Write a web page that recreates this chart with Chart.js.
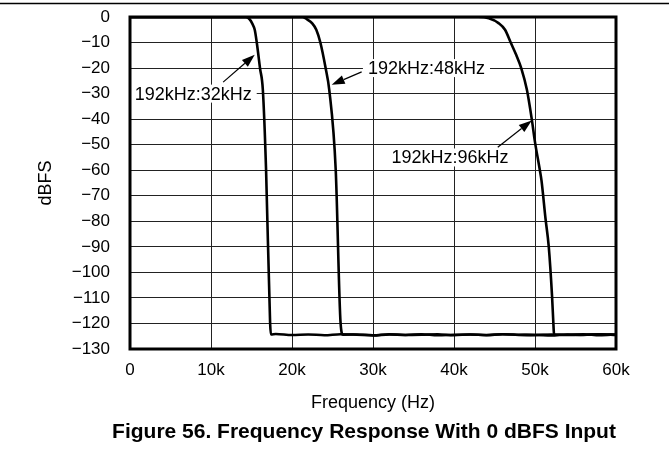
<!DOCTYPE html>
<html><head><meta charset="utf-8">
<script src="https://cdn.jsdelivr.net/npm/chart.js@4/dist/chart.umd.min.js"></script>
<style>html,body{margin:0;padding:0;background:#fff;}</style>
</head><body>
<canvas id="c" width="669" height="451"></canvas>
<script>
// ---- data ----
const xTicks = [0, 10000, 20000, 30000, 40000, 50000, 60000];
const xTickLabels = ['0', '10k', '20k', '30k', '40k', '50k', '60k'];
const yTicks = [0, -10, -20, -30, -40, -50, -60, -70, -80, -90, -100, -110, -120, -130];
const yTickLabels = ['0', '\u221210', '\u221220', '\u221230', '\u221240', '\u221250', '\u221260', '\u221270', '\u221280', '\u221290', '\u2212100', '\u2212110', '\u2212120', '\u2212130'];

const floorHz = [18000, 20000, 22000, 24000, 26000, 28000, 30000, 32000, 34000, 36000, 38000, 40000, 42000, 44000, 46000, 48000, 50000, 52000, 54000, 56000, 58000, 60000];

const hz32 = [0, 14300, 14800, 15100, 15400, 15650, 16050, 16400, 16800, 17300, 17400];
const db32 = [0, 0, -1, -2.6, -5, -10, -20, -28.5, -60, -120, -124.3];
const floor32 = [-124.1, -124.5, -124.3, -124.6, -124.2, -124.4, -124.7, -124.3, -124.5, -124.2, -124.6, -124.4, -124.3, -124.6, -124.2, -124.5, -124.4, -124.7, -124.3, -124.5, -124.2, -124.4];

const hz48 = [0, 21300, 21900, 22500, 23000, 23500, 24150, 24600, 25400, 26000, 26300];
const db48 = [0, 0, -1, -2.5, -5, -10, -20, -28.5, -60, -120, -124.4];
const floor48 = [null, null, null, null, null, -124.3, -124.6, -124.2, -124.5, -124.4, -124.2, -124.6, -124.3, -124.5, -124.2, -124.4, -124.6, -124.3, -124.5, -124.4, -124.2, -124.5];

const hz96 = [0, 43000, 44300, 45500, 46300, 47000, 47700, 48300, 49000, 49600, 50000, 50600, 50800, 51300, 51700, 52100, 52300, 52350];
const db96 = [0, 0, -0.5, -2.4, -5, -10, -15, -20, -28.5, -40, -49, -60, -64, -79, -90, -109, -122, -124.4];
const floor96 = [null, null, null, null, null, null, null, null, null, null, null, null, null, null, null, null, null, null, -124.4, -124.2, -124.6, -124.3];

const labels = ['192kHz:32kHz', '192kHz:48kHz', '192kHz:96kHz'];
const labelAt = [[7800, -30], [36600, -20], [39500, -55]];
const arrowFrom = [[11500, -25.5], [28600, -21.5], [45400, -51]];
const arrowTo = [[15400, -14.8], [24900, -26.5], [49600, -40.5]];

const figureTitle = 'Figure 56. Frequency Response With 0 dBFS Input';

// ---- build points ----
function pts(hz, db, floor) {
  const out = hz.map((h, i) => ({x: h, y: db[i]}));
  const last = hz[hz.length - 1];
  floorHz.forEach((h, i) => { if (floor[i] !== null && h > last) out.push({x: h, y: floor[i]}); });
  return out;
}

const FONT = "'Liberation Sans', Arial, sans-serif";

const decor = {
  id: 'decor',
  afterDatasetsDraw(chart) {
    const {ctx, chartArea: a, scales: {x, y}} = chart;
    ctx.save();
    // annotation labels
    ctx.font = '18px ' + FONT;
    ctx.textAlign = 'center';
    ctx.textBaseline = 'middle';
    labels.forEach((t, i) => {
      const px = x.getPixelForValue(labelAt[i][0]);
      const py = y.getPixelForValue(labelAt[i][1]);
      const w = ctx.measureText(t).width;
      ctx.fillStyle = '#fff';
      ctx.fillRect(px - w / 2 - 5, py - 9, w + 10, 18);
      ctx.fillStyle = '#000';
      ctx.fillText(t, px, py + 1);
      // arrow
      const x0 = x.getPixelForValue(arrowFrom[i][0]), y0 = y.getPixelForValue(arrowFrom[i][1]);
      const x1 = x.getPixelForValue(arrowTo[i][0]), y1 = y.getPixelForValue(arrowTo[i][1]);
      const ang = Math.atan2(y1 - y0, x1 - x0);
      const L = 13, W = 4.5;
      ctx.strokeStyle = '#000';
      ctx.lineWidth = 1.2;
      ctx.beginPath();
      ctx.moveTo(x0, y0);
      ctx.lineTo(x1 - L * Math.cos(ang), y1 - L * Math.sin(ang));
      ctx.stroke();
      ctx.beginPath();
      ctx.moveTo(x1, y1);
      ctx.lineTo(x1 - L * Math.cos(ang) - W * Math.sin(ang), y1 - L * Math.sin(ang) + W * Math.cos(ang));
      ctx.lineTo(x1 - L * Math.cos(ang) + W * Math.sin(ang), y1 - L * Math.sin(ang) - W * Math.cos(ang));
      ctx.closePath();
      ctx.fill();
    });
    // frame
    ctx.strokeStyle = '#000';
    ctx.lineWidth = 3;
    ctx.strokeRect(a.left, a.top, a.right - a.left, a.bottom - a.top);
    // header rule
    ctx.lineWidth = 1.5;
    ctx.beginPath();
    ctx.moveTo(0, 3.5);
    ctx.lineTo(chart.width, 3.5);
    ctx.stroke();
    // figure caption
    ctx.fillStyle = '#000';
    ctx.font = 'bold 21px ' + FONT;
    ctx.textAlign = 'center';
    ctx.textBaseline = 'middle';
    ctx.fillText(figureTitle, 364, 432);
    ctx.restore();
  }
};

const lineStyle = {
  borderColor: '#000',
  borderWidth: 2.6,
  pointRadius: 0,
  fill: false,
  cubicInterpolationMode: 'monotone',
  spanGaps: true
};

new Chart(document.getElementById('c'), {
  type: 'line',
  data: {
    datasets: [
      Object.assign({label: labels[0], data: pts(hz32, db32, floor32)}, lineStyle),
      Object.assign({label: labels[1], data: pts(hz48, db48, floor48)}, lineStyle),
      Object.assign({label: labels[2], data: pts(hz96, db96, floor96)}, lineStyle)
    ]
  },
  options: {
    responsive: false,
    animation: false,
    devicePixelRatio: 1,
    layout: {padding: {left: 0, right: 53, top: 17, bottom: 0}},
    plugins: {
      legend: {display: false},
      tooltip: {enabled: false},
      title: {display: false}
    },
    scales: {
      x: {
        type: 'linear',
        min: 0, max: 60000,
        afterBuildTicks(s) { s.ticks = xTicks.map(v => ({value: v})); },
        afterFit(s) { s.height = 102; },
        ticks: {
          callback: (v) => xTickLabels[xTicks.indexOf(v)],
          color: '#000',
          font: {family: FONT, size: 17},
          padding: 11,
          maxRotation: 0
        },
        grid: {color: '#222', lineWidth: 1, drawTicks: false},
        border: {display: false},
        title: {
          display: true,
          text: 'Frequency (Hz)',
          color: '#000',
          font: {family: FONT, size: 18},
          padding: {top: 0, bottom: 37}
        }
      },
      y: {
        type: 'linear',
        min: -130, max: 0,
        afterBuildTicks(s) { s.ticks = yTicks.map(v => ({value: v})); },
        afterFit(s) { s.width = 130; s.paddingTop = 0; s.paddingBottom = 0; },
        ticks: {
          callback: (v) => yTickLabels[yTicks.indexOf(v)],
          color: '#000',
          font: {family: FONT, size: 17},
          padding: 20
        },
        grid: {color: '#222', lineWidth: 1, drawTicks: false},
        border: {display: false},
        title: {
          display: true,
          text: 'dBFS',
          color: '#000',
          font: {family: FONT, size: 18},
          padding: {top: 35, bottom: 0}
        }
      }
    }
  },
  plugins: [decor]
});
</script>
</body></html>
